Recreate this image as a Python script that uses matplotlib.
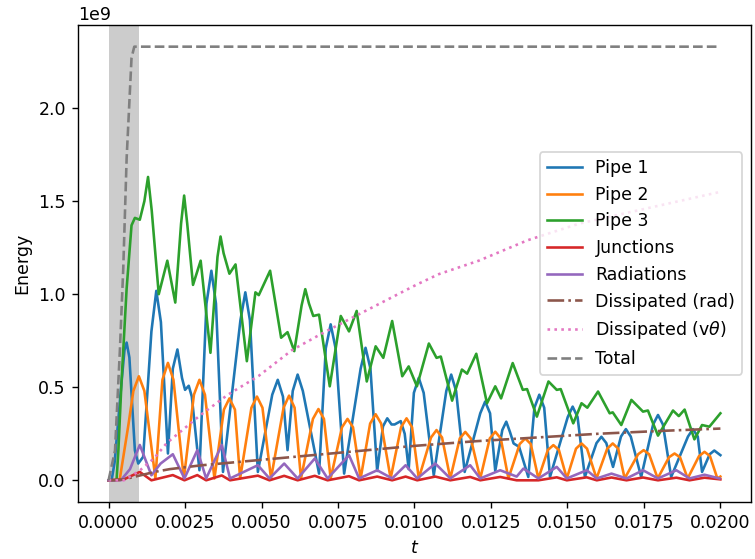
import matplotlib
matplotlib.use("Agg")
import matplotlib.pyplot as plt
import numpy as np

# Energies in units of 1e9, time in seconds
t_pipe1 = [0, 0.0001, 0.0002, 0.00042, 0.00052, 0.00059, 0.00068, 0.00086, 0.00097, 0.00113,
           0.0014, 0.00156, 0.00171, 0.00194, 0.0021, 0.00225, 0.0024, 0.0025, 0.00262,
           0.00272, 0.00297, 0.0032, 0.00336, 0.00351, 0.00374, 0.00431, 0.00447, 0.00462,
           0.00488, 0.00535, 0.00553, 0.0057, 0.00585, 0.00602, 0.00618, 0.00635, 0.00688,
           0.0071, 0.00726, 0.00742, 0.0077, 0.00824, 0.0084, 0.00856, 0.00878, 0.00897,
           0.00911, 0.00925, 0.00935, 0.00955, 0.00968, 0.00981, 0.00998, 0.01014, 0.0103,
           0.01063, 0.01104, 0.0112, 0.01136, 0.01164, 0.01215, 0.01231, 0.01247, 0.01264,
           0.01287, 0.013, 0.01312, 0.01324, 0.01342, 0.01372, 0.01392, 0.01408, 0.01424,
           0.01443, 0.01501, 0.01517, 0.01533, 0.01557, 0.01595, 0.01611, 0.01627, 0.01649,
           0.01675, 0.01691, 0.01707, 0.01741, 0.0178, 0.01796, 0.01812, 0.01839, 0.01894,
           0.0191, 0.01926, 0.0194, 0.01965, 0.0198, 0.02]
e_pipe1 = [0, 0, 0.1, 0.52, 0.7, 0.74, 0.66, 0.16, 0.09, 0.126,
           0.8, 1.018, 0.85, 0.144, 0.6, 0.703, 0.55, 0.486, 0.508,
           0.45, 0.054, 0.95, 1.126, 0.95, 0.045, 0.86, 1.01, 0.86,
           0.045, 0.46, 0.54, 0.45, 0.162, 0.48, 0.568, 0.48, 0.036,
           0.71, 0.838, 0.71, 0.036, 0.6, 0.712, 0.6, 0.05, 0.29,
           0.333, 0.30, 0.30, 0.318, 0.25, 0.06, 0.47, 0.55, 0.47,
           0.027, 0.48, 0.568, 0.48, 0.045, 0.36, 0.423, 0.36, 0.05,
           0.27, 0.315, 0.26, 0.198, 0.18, 0.018, 0.39, 0.46, 0.39,
           0.018, 0.34, 0.396, 0.34, 0.018, 0.2, 0.234, 0.2, 0.072,
           0.235, 0.275, 0.235, 0.018, 0.3, 0.351, 0.3, 0.018, 0.235,
           0.275, 0.235, 0.045, 0.14, 0.16, 0.135]

t_pipe2 = [0, 0.00036, 0.00065, 0.00081, 0.00099, 0.00117, 0.00153, 0.00176, 0.00194, 0.00212,
           0.00246, 0.00279, 0.00297, 0.00315, 0.00346, 0.00377, 0.00395, 0.00413, 0.0043,
           0.00467, 0.00485, 0.00503, 0.00531, 0.00572, 0.0059, 0.00608, 0.00629, 0.00668,
           0.00686, 0.00704, 0.00726, 0.00763, 0.00781, 0.00799, 0.00824, 0.00855, 0.00873,
           0.00891, 0.00922, 0.00956, 0.00974, 0.00992, 0.01014, 0.01054, 0.01072, 0.0109,
           0.01117, 0.01148, 0.01166, 0.01184, 0.01215, 0.01246, 0.01264, 0.01282, 0.01307,
           0.01344, 0.01362, 0.0138, 0.01405, 0.01436, 0.01454, 0.01472, 0.01498, 0.01528,
           0.01546, 0.01564, 0.01595, 0.0163, 0.01648, 0.01666, 0.01687, 0.01731, 0.01749,
           0.01767, 0.01795, 0.01832, 0.0185, 0.01868, 0.01893, 0.0193, 0.01948, 0.01966,
           0.0199, 0.02]
e_pipe2 = [0, 0, 0.3, 0.48, 0.559, 0.48, 0.01, 0.54, 0.631, 0.54,
           0.01, 0.46, 0.54, 0.46, 0.01, 0.38, 0.44, 0.38, 0.01,
           0.39, 0.45, 0.39, 0.01, 0.39, 0.455, 0.39, 0.01, 0.33,
           0.383, 0.33, 0.01, 0.285, 0.33, 0.285, 0.01, 0.305, 0.355,
           0.305, 0.01, 0.285, 0.333, 0.285, 0.01, 0.23, 0.27, 0.23,
           0.01, 0.225, 0.26, 0.225, 0.01, 0.225, 0.261, 0.225, 0.01,
           0.195, 0.225, 0.195, 0.01, 0.163, 0.189, 0.163, 0.01, 0.17,
           0.198, 0.17, 0.01, 0.17, 0.198, 0.17, 0.01, 0.14, 0.162,
           0.14, 0.01, 0.124, 0.144, 0.124, 0.01, 0.13, 0.153, 0.13,
           0.01, 0.02]

t_pipe3 = [0, 0.00026, 0.00032, 0.00042, 0.00059, 0.00075, 0.00086, 0.00102, 0.00117, 0.00129,
           0.00141, 0.00164, 0.00192, 0.00218, 0.00237, 0.00247, 0.00257, 0.00276, 0.00301,
           0.00333, 0.00356, 0.00366, 0.00376, 0.00395, 0.00415, 0.00452, 0.0048, 0.00491,
           0.00528, 0.00564, 0.00585, 0.00607, 0.00631, 0.00643, 0.00655, 0.00669, 0.00688,
           0.00723, 0.00759, 0.00786, 0.00811, 0.00844, 0.00873, 0.00898, 0.00927, 0.0096,
           0.00981, 0.01008, 0.01047, 0.01072, 0.01086, 0.01123, 0.01155, 0.01172, 0.01202,
           0.01237, 0.01264, 0.01283, 0.01321, 0.01354, 0.01368, 0.014, 0.01438, 0.01465,
           0.01478, 0.01519, 0.01546, 0.01565, 0.016, 0.01638, 0.01648, 0.01676, 0.01709,
           0.01747, 0.01763, 0.01796, 0.01845, 0.01864, 0.01883, 0.01915, 0.0194, 0.01964,
           0.02]
e_pipe3 = [0, 0, 0.16, 0.52, 1.03, 1.37, 1.41, 1.40, 1.5, 1.63,
           1.45, 1.00, 1.18, 0.955, 1.38, 1.53, 1.38, 1.05, 1.18,
           0.685, 1.2, 1.31, 1.22, 1.11, 1.16, 0.64, 1.01, 0.995,
           1.126, 0.766, 0.796, 0.694, 0.94, 1.027, 0.95, 0.883, 0.89,
           0.505, 0.883, 0.80, 0.91, 0.531, 0.72, 0.658, 0.856, 0.559,
           0.612, 0.505, 0.735, 0.658, 0.665, 0.428, 0.595, 0.573, 0.68,
           0.414, 0.505, 0.44, 0.63, 0.486, 0.49, 0.342, 0.531, 0.486,
           0.49, 0.306, 0.414, 0.39, 0.477, 0.36, 0.365, 0.297, 0.432,
           0.369, 0.375, 0.24, 0.375, 0.345, 0.38, 0.22, 0.297, 0.288,
           0.36]

t_rad = [0, 0.0004, 0.0007, 0.00102, 0.0014, 0.0017, 0.0021, 0.00248, 0.0029, 0.00319,
         0.0037, 0.00397, 0.00488, 0.00526, 0.00574, 0.00618, 0.00674, 0.00716, 0.00786,
         0.00819, 0.00878, 0.00927, 0.00971, 0.01009, 0.01068, 0.01117, 0.01182, 0.01215,
         0.0128, 0.01334, 0.01356, 0.01405, 0.01465, 0.01498, 0.01563, 0.01596, 0.01644,
         0.01693, 0.01747, 0.01796, 0.01856, 0.01899, 0.01948, 0.01997]
e_rad = [0, 0, 0.06, 0.19, 0.027, 0.09, 0.14, 0.01, 0.162, 0.01,
         0.19, 0.01, 0.081, 0.01, 0.09, 0.01, 0.117, 0.01, 0.135,
         0.01, 0.054, 0.01, 0.081, 0.01, 0.09, 0.01, 0.081, 0.01,
         0.054, 0.02, 0.063, 0.01, 0.072, 0.01, 0.054, 0.01, 0.036,
         0.01, 0.054, 0.01, 0.054, 0.01, 0.03, 0.01]

t_junc = [0, 0.0005, 0.00102, 0.0014, 0.0021, 0.00248, 0.0029, 0.00319, 0.0037, 0.00397,
          0.00488, 0.00526, 0.00574, 0.00618, 0.00674, 0.00716, 0.00786, 0.00819, 0.00878,
          0.00927, 0.00971, 0.01009, 0.01068, 0.01117, 0.01182, 0.01215, 0.0128, 0.01334,
          0.01405, 0.01465, 0.01498, 0.01563, 0.01596, 0.01644, 0.01693, 0.01747, 0.01796,
          0.01856, 0.01899, 0.01948, 0.02]
e_junc = [0, 0.005, 0.045, 0.0, 0.028, 0.0, 0.028, 0.0, 0.026, 0.0,
          0.025, 0.0, 0.024, 0.0, 0.024, 0.0, 0.022, 0.0, 0.02,
          0.0, 0.02, 0.0, 0.02, 0.0, 0.018, 0.0, 0.018, 0.0,
          0.0, 0.016, 0.0, 0.016, 0.0, 0.015, 0.0, 0.015, 0.0,
          0.014, 0.0, 0.014, 0.005]

t_diss_rad = [0, 0.0005, 0.001, 0.0015, 0.002, 0.003, 0.004, 0.005, 0.006, 0.008,
              0.010, 0.012, 0.014, 0.016, 0.018, 0.020]
e_diss_rad = [0, 0.005, 0.025, 0.045, 0.06, 0.08, 0.095, 0.11, 0.125, 0.155,
              0.185, 0.21, 0.23, 0.25, 0.265, 0.278]

t_diss_vt = [0, 0.0005, 0.001, 0.0015, 0.0019, 0.003, 0.0039, 0.0049, 0.006, 0.0071,
             0.0081, 0.0101, 0.0108, 0.0121, 0.0137, 0.0154, 0.02]
e_diss_vt = [0, 0.0, 0.05, 0.12, 0.2, 0.35, 0.46, 0.56, 0.70, 0.80,
             0.885, 1.054, 1.108, 1.18, 1.29, 1.38, 1.55]

t_total = [0, 0.00021, 0.00037, 0.00048, 0.00059, 0.00075, 0.00084, 0.02]
e_total = [0, 0.16, 0.70, 1.14, 1.73, 2.27, 2.33, 2.33]

span_start, span_end = 0.0, 0.001
scale = 1e9

DPI = 125
fig = plt.figure(figsize=(755 / DPI, 559 / DPI), dpi=DPI)
ax = fig.add_axes([0.1033, 0.102, 0.8914, 0.8533])

ax.axvspan(span_start, span_end, color='grey', alpha=0.4, lw=0)

ax.plot(t_pipe1, np.array(e_pipe1) * scale, color='C0', label='Pipe 1')
ax.plot(t_pipe2, np.array(e_pipe2) * scale, color='C1', label='Pipe 2')
ax.plot(t_pipe3, np.array(e_pipe3) * scale, color='C2', label='Pipe 3')
ax.plot(t_junc, np.array(e_junc) * scale, color='C3', label='Junctions')
ax.plot(t_rad, np.array(e_rad) * scale, color='C4', label='Radiations')
ax.plot(t_diss_rad, np.array(e_diss_rad) * scale, color='C5', ls='-.', label='Dissipated (rad)')
ax.plot(t_diss_vt, np.array(e_diss_vt) * scale, color='C6', ls=':', label=r'Dissipated (v$\theta$)')
ax.plot(t_total, np.array(e_total) * scale, color='C7', ls='--', label='Total')

ax.set_xlabel('$t$')
ax.set_ylabel('Energy')
ax.set_xticks([0, 0.0025, 0.005, 0.0075, 0.01, 0.0125, 0.015, 0.0175, 0.02])
ax.legend(loc='center right')

fig.savefig('out.png', dpi=DPI)
